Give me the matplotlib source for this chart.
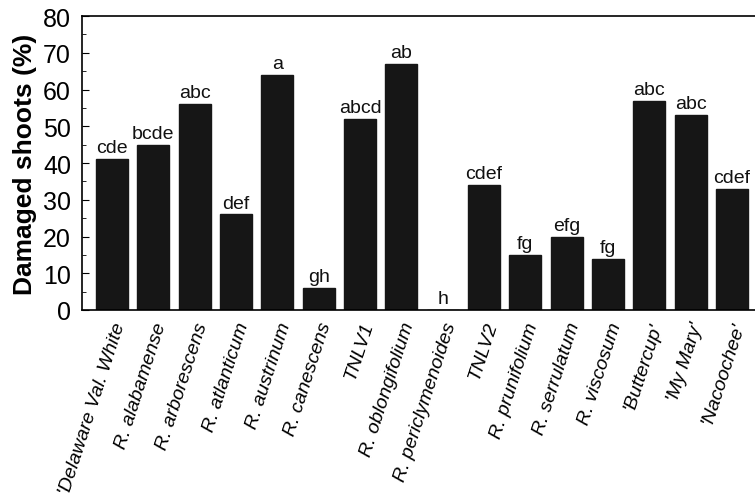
import matplotlib
matplotlib.use('Agg')
import matplotlib.pyplot as plt
from matplotlib.ticker import MultipleLocator

plt.rcParams['font.family'] = ['Liberation Sans', 'DejaVu Sans']

# Повреждённые побеги по таксонам
taxa = ["'Delaware Val. White", 'R. alabamense', 'R. arborescens', 'R. atlanticum',
        'R. austrinum', 'R. canescens', 'TNLV1', 'R. oblongifolium',
        'R. periclymenoides', 'TNLV2', 'R. prunifolium', 'R. serrulatum',
        'R. viscosum', "'Buttercup'", "'My Mary'", "'Nacoochee'"]
damaged = [41, 45, 56, 26, 64, 6, 52, 67, 0, 34, 15, 20, 14, 57, 53, 33]
letters = ['cde', 'bcde', 'abc', 'def', 'a', 'gh', 'abcd', 'ab', 'h', 'cdef',
           'fg', 'efg', 'fg', 'abc', 'abc', 'cdef']

fig = plt.figure(figsize=(7.55, 5.02), dpi=100)
ax = fig.add_axes([0.1086, 0.3805, 0.8914, 0.5855])

x = range(len(taxa))
ax.bar(x, damaged, width=0.77, color='#161616', edgecolor='#161616')

# буквы значимости над столбиками
for xi, v, lab in zip(x, damaged, letters):
    ax.text(xi, v + 0.8, lab, ha='center', va='bottom', fontsize=14, color='#111111')

ax.set_xlim(-0.726, 15.556)
ax.set_ylim(0, 80)
ax.yaxis.set_major_locator(MultipleLocator(10))
ax.yaxis.set_minor_locator(MultipleLocator(5))
ax.tick_params(axis='y', which='major', direction='in', length=5, width=0.8,
               labelsize=18, pad=8)
ax.tick_params(axis='y', which='minor', direction='in', length=3, width=0.6)
ax.tick_params(axis='x', length=0, pad=7)

ax.set_xticks(list(x))
ax.set_xticklabels(taxa, rotation=72, ha='right', rotation_mode='anchor',
                   fontsize=14, style='italic')

ax.spines['right'].set_visible(False)
for s in ['left', 'top', 'bottom']:
    ax.spines[s].set_linewidth(1.2)

ax.set_ylabel('Damaged shoots (%)', fontsize=19, fontweight='bold', labelpad=4)

plt.savefig('out.png', dpi=100)
